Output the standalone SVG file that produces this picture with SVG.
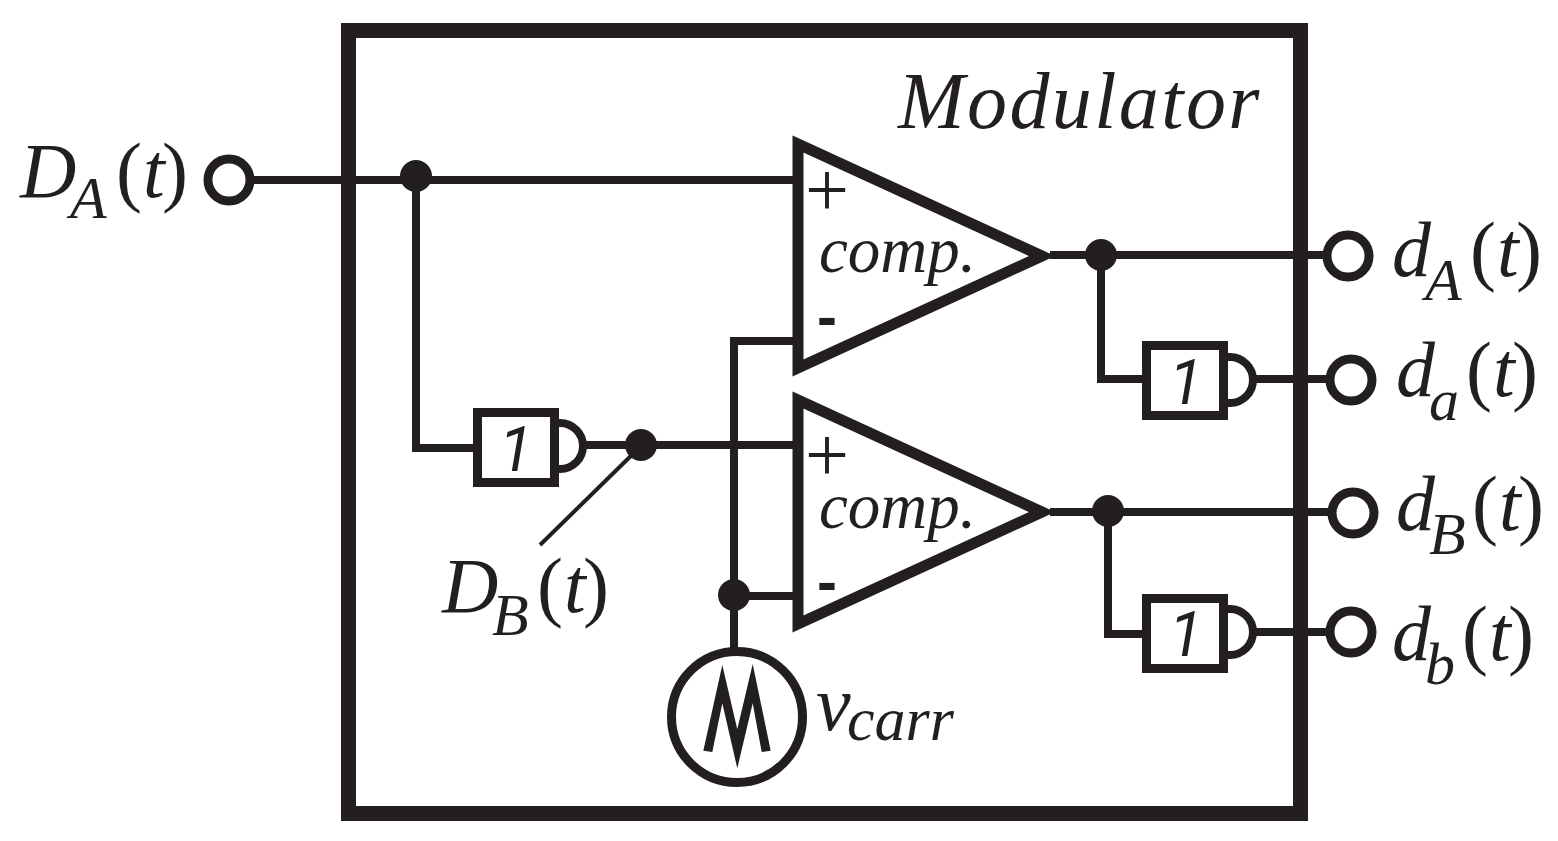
<svg xmlns="http://www.w3.org/2000/svg" width="1558" height="841" viewBox="0 0 1558 841">
<style>
.w{fill:none;stroke:#231f20;stroke-width:8}
.o{fill:#fff;stroke:#231f20;stroke-width:9}
.t{fill:#fff;stroke:#231f20;stroke-width:11;stroke-miterlimit:10}
.d{fill:#231f20}
text{font-family:"Liberation Serif","Times New Roman",serif;fill:#231f20}
.l{font-size:78px;font-style:italic}
.sub{font-size:60px;font-style:italic}
.n{font-style:normal}
.i{font-style:italic}
.c{font-size:65px;font-style:italic}
.p{font-size:78px}
.m{font-size:60px;font-family:"Liberation Sans",Arial,sans-serif;font-weight:bold}
.one{font-size:62px;font-style:italic;font-family:Roboto,"Liberation Sans",sans-serif}
</style>
<rect width="1558" height="841" fill="#fff"/>
<g id="connectors">
<path class="w" d="M250 180H794"/>
<path class="w" d="M416 176V448H476"/>
<path class="w" d="M584 445H794"/>
<path class="w" d="M794 341H734V650"/>
<path class="w" d="M734 596H794"/>
<path class="w" d="M1050 255H1328"/>
<path class="w" d="M1101 255V379H1146"/>
<path class="w" d="M1254 379H1330"/>
<path class="w" d="M1050 512H1332"/>
<path class="w" d="M1108 512V634H1146"/>
<path class="w" d="M1254 632H1330"/>
<path fill="none" stroke="#231f20" stroke-width="4" d="M640 447L540 545"/>
<circle class="d" cx="416" cy="176" r="16"/>
<circle class="d" cx="1101" cy="255" r="16"/>
<circle class="d" cx="641" cy="445" r="16"/>
<circle class="d" cx="1108" cy="511" r="16"/>
<circle class="d" cx="734" cy="595" r="16"/>
</g>
<g id="modulator"><rect x="348.500" y="30.500" width="952" height="783" fill="none" stroke="#231f20" stroke-width="15"/><text x="898" y="128" font-size="80" letter-spacing="2.400" class="i">Modulator</text></g>
<g id="comp1"><path class="t" d="M798 144L1042 256L798 368Z"/><text x="805" y="216" class="p">+</text><text x="817" y="337" class="m">-</text><text x="819" y="272" class="c">comp.</text></g>
<g id="comp2"><path class="t" d="M798 400L1042 512L798 624Z"/><text x="805" y="481" class="p">+</text><text x="817" y="602" class="m">-</text><text x="819" y="528" class="c">comp.</text></g>
<g id="not-b"><path class="w" d="M554 423H560A23 23 0 0 1 560 469H554"/><rect class="o" x="477.500" y="412.500" width="77" height="70"/><text x="499" y="471" class="one">1</text></g>
<g id="not-a"><path class="w" d="M1224 357H1230A23 23 0 0 1 1230 403H1224"/><rect class="o" x="1146.500" y="345.500" width="77" height="70"/><text x="1169" y="404" class="one">1</text></g>
<g id="not-bb"><path class="w" d="M1224 609H1230A23 23 0 0 1 1230 655H1224"/><rect class="o" x="1146.500" y="598.500" width="77" height="70"/><text x="1169" y="656" class="one">1</text></g>
<g id="carrier"><circle class="o" cx="737" cy="717" r="65.500"/><path d="M703.300 750.700L722.300 665L737.300 729.300L752.700 664L770.700 750.700L761.700 752L752.700 703.300L737.300 768.300L722.300 703.300L712.300 752Z" fill="#231f20"/><text x="816" y="730" class="l">v<tspan x="847" y="740" font-size="62">carr</tspan></text></g>
<g id="port-DA"><circle class="o" cx="229" cy="180" r="21"/><text x="20" y="197" class="l">D<tspan class="sub" x="70" y="218">A</tspan><tspan class="n" x="116" y="197">(</tspan><tspan x="143" y="197">t</tspan><tspan class="n" x="162" y="197">)</tspan></text></g>
<g id="port-DB"><text x="442" y="612" class="l">D<tspan class="sub" x="492" y="635">B</tspan><tspan class="n" x="537" y="612">(</tspan><tspan x="564" y="612">t</tspan><tspan class="n" x="583" y="612">)</tspan></text></g>
<g id="port-dA"><circle class="o" cx="1348" cy="256" r="21"/><text x="1392" y="276" class="l">d<tspan class="sub" x="1425" y="300">A</tspan><tspan class="n" x="1470" y="276">(</tspan><tspan x="1497" y="276">t</tspan><tspan class="n" x="1516" y="276">)</tspan></text></g>
<g id="port-da"><circle class="o" cx="1351" cy="380" r="21"/><text x="1396" y="396" class="l">d<tspan class="sub" x="1429" y="420">a</tspan><tspan class="n" x="1466" y="396">(</tspan><tspan x="1493" y="396">t</tspan><tspan class="n" x="1512" y="396">)</tspan></text></g>
<g id="port-dB"><circle class="o" cx="1353" cy="513" r="21"/><text x="1396" y="530" class="l">d<tspan class="sub" x="1429" y="554">B</tspan><tspan class="n" x="1472" y="530">(</tspan><tspan x="1499" y="530">t</tspan><tspan class="n" x="1518" y="530">)</tspan></text></g>
<g id="port-db"><circle class="o" cx="1351" cy="632" r="21"/><text x="1392" y="660" class="l">d<tspan class="sub" x="1425" y="684">b</tspan><tspan class="n" x="1462" y="660">(</tspan><tspan x="1489" y="660">t</tspan><tspan class="n" x="1508" y="660">)</tspan></text></g>
</svg>
